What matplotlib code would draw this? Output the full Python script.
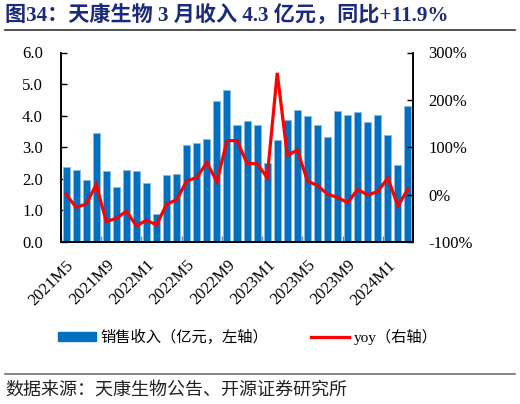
import numpy as np
import matplotlib.pyplot as plt
from matplotlib.lines import Line2D
from matplotlib.patches import Patch
from matplotlib.ticker import FuncFormatter, MultipleLocator

# data
months = ["2021M5", "2021M6", "2021M7", "2021M8", "2021M9", "2021M10", "2021M11", "2021M12",
          "2022M1", "2022M2", "2022M3", "2022M4", "2022M5", "2022M6", "2022M7", "2022M8",
          "2022M9", "2022M10", "2022M11", "2022M12", "2023M1", "2023M2", "2023M3", "2023M4",
          "2023M5", "2023M6", "2023M7", "2023M8", "2023M9", "2023M10", "2023M11", "2023M12",
          "2024M1", "2024M2", "2024M3"]
revenue = [2.37, 2.28, 1.95, 3.46, 2.25, 1.74, 2.28, 2.25, 1.86, 0.90, 2.11, 2.15,
           3.06, 3.12, 3.27, 4.45, 4.80, 3.71, 3.83, 3.71, 2.50, 3.22, 3.86, 4.18,
           3.98, 3.69, 3.31, 4.15, 4.02, 4.11, 3.80, 4.01, 3.40, 2.44, 4.31]
yoy = [1, -27, -20, 21, -57, -50, -35, -66, -54, -64, -20, -11,
       29, 36, 68, 27, 114, 114, 66, 65, 36, 257, 83, 94,
       29, 19, 1, -6, -17, 11, -1, 7, 35, -24, 11.9]

title = "图34：天康生物 3 月收入 4.3 亿元，同比+11.9%"
source = "数据来源：天康生物公告、开源证券研究所"
bar_label = "销售收入（亿元，左轴）"
line_label = "yoy（右轴）"

SERIF = ["Liberation Serif", "Noto Sans CJK SC"]
CJK = ["Noto Sans CJK SC", "DejaVu Sans"]
BLUE = "#0070C0"
RED = "#FF0000"

fig = plt.figure(figsize=(5.2, 4.04), dpi=100)
ax = fig.add_axes([61 / 520, 1 - 242 / 404, 352 / 520, (242 - 52.5) / 404])

x = np.arange(len(months))
ax.bar(x, revenue, width=0.7, color=BLUE, edgecolor="#8DB9E2", linewidth=0.6, zorder=2)
ax.set_xlim(-0.5, len(months) - 0.5)
ax.set_ylim(0, 6)
ax.yaxis.set_major_locator(MultipleLocator(1))
ax.yaxis.set_major_formatter(FuncFormatter(lambda v, p: f"{v:.1f}"))

# x ticks at category boundaries, labels at every 4th month
ax.set_xticks(x[::4] - 0.5)
ax.set_xticklabels([])
ax.set_xticks(x[::4], minor=True)
ax.set_xticklabels(months[::4], minor=True, rotation=45, ha="right", va="top",
                   rotation_mode="anchor", family=SERIF, fontsize=12)
ax.tick_params(axis="x", which="major", direction="in", length=4, color="#808080", width=1)
ax.tick_params(axis="x", which="minor", length=0, pad=11)
ax.tick_params(axis="y", direction="in", length=4, width=1, pad=13, labelsize=12)
for lab in ax.get_yticklabels():
    lab.set_family(SERIF)

ax2 = ax.twinx()
ax2.plot(x, yoy, color=RED, linewidth=2.3, solid_joinstyle="miter", zorder=3)
ax2.set_ylim(-100, 300)
ax2.yaxis.set_major_locator(MultipleLocator(100))
ax2.yaxis.set_major_formatter(FuncFormatter(lambda v, p: f"{v:.0f}%"))
ax2.tick_params(axis="y", direction="in", length=4, width=1, pad=11, labelsize=12)
for lab in ax2.get_yticklabels():
    lab.set_family(SERIF)

for a in (ax, ax2):
    a.spines["top"].set_visible(False)
    for s in ("left", "right", "bottom"):
        a.spines[s].set_linewidth(1.2)
        a.spines[s].set_color("black")

handles = [Patch(facecolor=BLUE, edgecolor=BLUE),
           Line2D([0], [0], color=RED, linewidth=2.3)]
fig.legend(handles, [bar_label, line_label], loc="center", bbox_to_anchor=(0.476, 1 - 337 / 404),
           ncol=2, frameon=False, prop={"family": SERIF, "size": 11},
           handlelength=2.5, handleheight=0.45, handletextpad=0.3, columnspacing=2.8)

fig.text(5 / 520, 1 - 15 / 404, title, family=SERIF, fontsize=15.2, fontweight="bold",
         color="#1C2A7C", ha="left", va="center")
fig.add_artist(Line2D([5 / 520, 515 / 520], [1 - 30 / 404] * 2, color="#333333",
                      linewidth=1.2, transform=fig.transFigure))
fig.add_artist(Line2D([5 / 520, 515 / 520], [1 - 374 / 404] * 2, color="#707070",
                      linewidth=1.2, transform=fig.transFigure))
fig.text(5 / 520, 1 - 391 / 404, source, family=CJK, fontsize=13, color="#222222",
         ha="left", va="center")

fig.savefig("out.png", dpi=100)
